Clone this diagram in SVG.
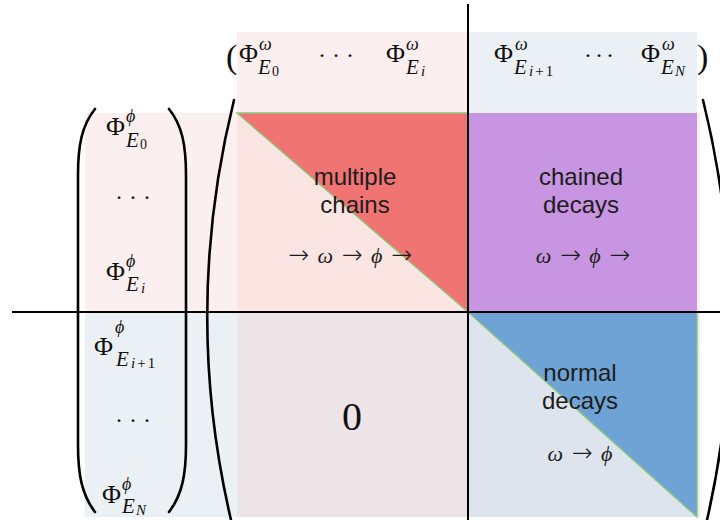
<svg xmlns="http://www.w3.org/2000/svg" width="720" height="520" viewBox="0 0 720 520">
<style>
.m{font-family:"Liberation Serif","DejaVu Serif",serif;fill:#111}
.P{font-size:26px}
.sp{font-size:18px;font-style:italic}
.E{font-size:21px;font-style:italic}
.ss{font-size:14px}
.ssi{font-size:15px;font-style:italic}
.dots{font-size:24px}
.lbl{font-family:"Liberation Sans",Arial,sans-serif;font-size:24px;fill:#1c1c1c;text-anchor:middle}
.ml{font-family:"Liberation Serif","DejaVu Serif",serif;font-size:22px;fill:#1c1c1c;text-anchor:middle;word-spacing:3px}
.ar{font-family:"DejaVu Sans",sans-serif;font-size:25px;font-style:normal;font-weight:200}
.par{fill:none;stroke:#000;stroke-width:2.6;stroke-linecap:round}
.axis{stroke:#000;stroke-width:2}
.edge{fill:none;stroke:#8cc47c;stroke-width:1.4}
</style>
<rect width="720" height="520" fill="#fff"/>
<g id="bands">
<rect x="237" y="32" width="231" height="82" fill="#fcefef"/>
<rect x="468" y="32" width="229" height="82" fill="#ebf0f4"/>
<rect x="85" y="113" width="152" height="199" fill="#fcefef"/>
<rect x="85" y="312" width="152" height="205" fill="#ebf0f4"/>
<rect x="697" y="113" width="3" height="199" fill="#fcefef"/>
<rect x="697" y="312" width="3" height="205" fill="#e8eef4"/>
</g>
<g id="block-multiple-chains">
<rect x="237" y="113" width="231" height="199" fill="#fae5e3"/>
<polygon points="237,113 468,113 468,312" fill="#ef7472"/>
<polyline class="edge" points="468,312 237,113 468,113"/>
<text class="lbl" x="355" y="185">multiple</text>
<text class="lbl" x="355" y="213">chains</text>
<text class="ml" x="350" y="263"><tspan class="ar">→</tspan> <tspan font-style="italic">ω</tspan> <tspan class="ar">→</tspan> <tspan font-style="italic">ϕ</tspan> <tspan class="ar">→</tspan></text>
</g>
<g id="block-chained-decays">
<rect x="468" y="113" width="229" height="199" fill="#c795e1"/>
<text class="lbl" x="581" y="185">chained</text>
<text class="lbl" x="581" y="213">decays</text>
<text class="ml" x="583" y="263"><tspan font-style="italic">ω</tspan> <tspan class="ar">→</tspan> <tspan font-style="italic">ϕ</tspan> <tspan class="ar">→</tspan></text>
</g>
<g id="block-zero">
<rect x="237" y="312" width="231" height="205" fill="#ece4e6"/>
<text class="m" x="352" y="430" font-size="40" text-anchor="middle">0</text>
</g>
<g id="block-normal-decays">
<rect x="468" y="312" width="229" height="205" fill="#dde4ed"/>
<polygon points="468,312 697,312 697,517" fill="#6fa3d5"/>
<polyline class="edge" points="468,312 697,517 697,312"/>
<text class="lbl" x="580" y="381">normal</text>
<text class="lbl" x="580" y="409">decays</text>
<text class="ml" x="580" y="461"><tspan font-style="italic">ω</tspan> <tspan class="ar">→</tspan> <tspan font-style="italic">ϕ</tspan></text>
</g>
<g id="row-vector">
<text class="m" x="226" y="68" font-size="34">(</text>
<text class="m P" x="239" y="62">Φ</text><text class="m sp" x="259" y="50">ω</text><text class="m E" x="258" y="74">E</text><text class="m ss" x="272" y="76">0</text>
<text class="m dots" x="318" y="63" letter-spacing="6">···</text>
<text class="m P" x="386" y="62">Φ</text><text class="m sp" x="406" y="50">ω</text><text class="m E" x="406" y="74">E</text><text class="m ssi" x="421" y="76">i</text>
<text class="m P" x="494" y="62">Φ</text><text class="m sp" x="515" y="50">ω</text><text class="m E" x="514" y="74">E</text><text class="m ssi" x="529" y="76" letter-spacing="2">i<tspan font-style="normal">+1</tspan></text>
<text class="m dots" x="584" y="63" letter-spacing="3">···</text>
<text class="m P" x="641" y="62">Φ</text><text class="m sp" x="662" y="50">ω</text><text class="m E" x="661" y="74">E</text><text class="m ssi" x="675" y="76">N</text>
<text class="m" x="697" y="68" font-size="34">)</text>
</g>
<g id="column-vector">
<path class="par" d="M95 109 C82 125 78 145 78 175 L78 445 C78 475 82 495 95 512"/>
<path class="par" d="M169 109 C182 125 186 145 186 175 L186 445 C186 475 182 495 169 512"/>
<text class="m P" x="106" y="135">Φ</text><text class="m sp" x="126" y="122">ϕ</text><text class="m E" x="126" y="147">E</text><text class="m ss" x="140" y="149">0</text>
<text class="m dots" x="115" y="205" letter-spacing="6">···</text>
<text class="m P" x="106" y="280">Φ</text><text class="m sp" x="126" y="267">ϕ</text><text class="m E" x="126" y="291">E</text><text class="m ssi" x="141" y="293">i</text>
<text class="m P" x="94" y="355">Φ</text><text class="m sp" x="115" y="333">ϕ</text><text class="m E" x="116" y="366">E</text><text class="m ssi" x="131" y="368" letter-spacing="2">i<tspan font-style="normal">+1</tspan></text>
<text class="m dots" x="115" y="428" letter-spacing="6">···</text>
<text class="m P" x="102" y="503">Φ</text><text class="m sp" x="122" y="490">ϕ</text><text class="m E" x="122" y="513">E</text><text class="m ssi" x="136" y="515">N</text>
</g>
<g id="matrix-brackets">
<path class="par" d="M234 100 Q182 310 231 520"/>
<path class="par" d="M703 100 Q755 310 707 520"/>
</g>
<g id="connectors">
<line class="axis" x1="468" y1="4" x2="468" y2="520"/>
<line class="axis" x1="12" y1="312" x2="720" y2="312"/>
</g>
</svg>
